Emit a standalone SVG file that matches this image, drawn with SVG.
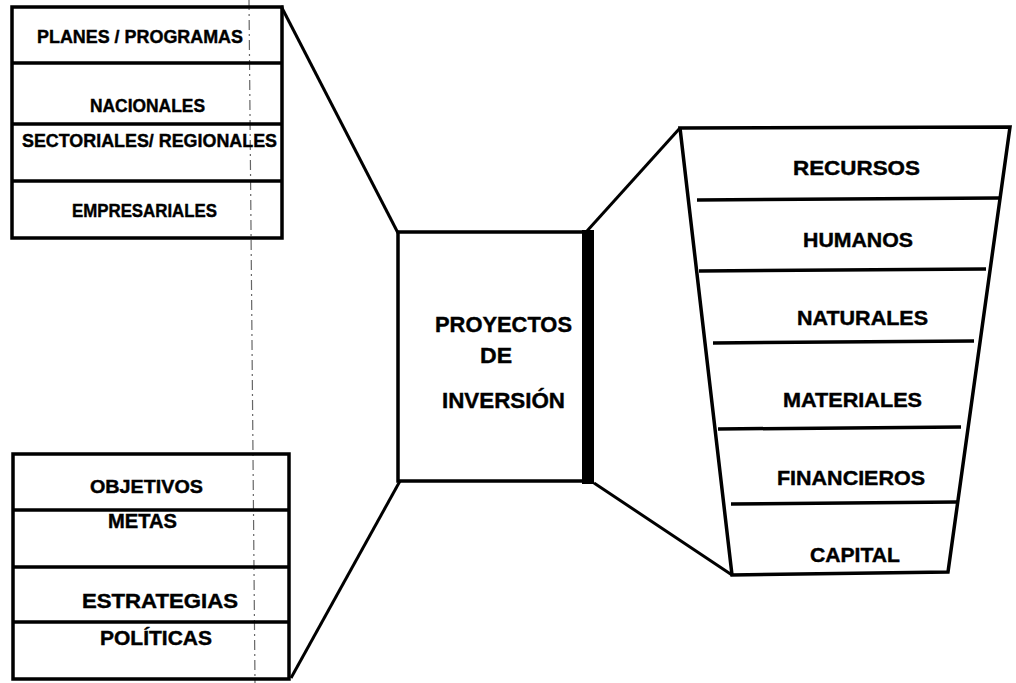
<svg xmlns="http://www.w3.org/2000/svg" width="1016" height="683" viewBox="0 0 1016 683">
  <style>
    .frame { fill: none; stroke: #000; stroke-width: 3.5; stroke-linejoin: miter; }
    .bar { fill: none; stroke: #000; stroke-width: 3.5; }
    .link { fill: none; stroke: #000; stroke-width: 3; }
    .guide { fill: none; stroke: #666; stroke-width: 1.2; stroke-dasharray: 10 4 2 4; }
    text { font-family: "Liberation Sans", Arial, sans-serif; font-weight: bold; fill: #000; stroke: #000; stroke-width: 0.4; }
    .sm { font-size: 17.5px; }
    .md { font-size: 19.5px; }
    .lg { font-size: 22px; }
  </style>
  <rect width="1016" height="683" fill="#fff"/>

  <!-- thin dashed vertical guide -->
  <line class="guide" x1="249" y1="0" x2="255" y2="683"/>

  <g id="connectors">
    <line class="link" x1="281" y1="6" x2="398" y2="233"/>
    <line class="link" x1="400" y1="481" x2="291" y2="678"/>
    <line class="link" x1="587" y1="231" x2="680" y2="128"/>
    <line class="link" x1="594" y1="483" x2="732" y2="575"/>
  </g>

  <g id="planes">
    <rect class="frame" x="12" y="7" width="270" height="231"/>
    <line class="bar" x1="12" y1="63" x2="282" y2="63"/>
    <line class="bar" x1="12" y1="124" x2="282" y2="124"/>
    <line class="bar" x1="12" y1="181" x2="282" y2="181"/>
    <text class="sm" x="37" y="43" textLength="206" lengthAdjust="spacingAndGlyphs">PLANES /  PROGRAMAS</text>
    <text class="sm" x="90" y="112" textLength="115" lengthAdjust="spacingAndGlyphs">NACIONALES</text>
    <text class="sm" x="22" y="147" textLength="255" lengthAdjust="spacingAndGlyphs">SECTORIALES/ REGIONALES</text>
    <text class="sm" x="72" y="217" textLength="145" lengthAdjust="spacingAndGlyphs">EMPRESARIALES</text>
  </g>

  <g id="objetivos">
    <rect class="frame" x="13" y="454" width="276" height="225"/>
    <line class="bar" x1="13" y1="510" x2="289" y2="510"/>
    <line class="bar" x1="13" y1="567" x2="289" y2="567"/>
    <line class="bar" x1="13" y1="622" x2="289" y2="622"/>
    <text class="sm" x="90" y="493" textLength="113" lengthAdjust="spacingAndGlyphs">OBJETIVOS</text>
    <text class="md" x="108" y="528" textLength="69" lengthAdjust="spacingAndGlyphs">METAS</text>
    <text class="md" x="82" y="608" textLength="156" lengthAdjust="spacingAndGlyphs">ESTRATEGIAS</text>
    <text class="md" x="100" y="645" textLength="112" lengthAdjust="spacingAndGlyphs">POLÍTICAS</text>
  </g>

  <g id="proyectos">
    <rect class="frame" x="398" y="232" width="188" height="249"/>
    <rect x="582" y="230" width="12" height="254" fill="#000"/>
    <text class="lg" x="435" y="332" textLength="137" lengthAdjust="spacingAndGlyphs">PROYECTOS</text>
    <text class="lg" x="480" y="363" textLength="32" lengthAdjust="spacingAndGlyphs">DE</text>
    <text class="lg" x="442" y="408" textLength="123" lengthAdjust="spacingAndGlyphs">INVERSIÓN</text>
  </g>

  <g id="recursos">
    <polygon class="frame" points="680,128 1010,127 948,572 732,575"/>
    <line class="bar" x1="697" y1="200" x2="999" y2="198"/>
    <line class="bar" x1="699" y1="271" x2="986" y2="269"/>
    <line class="bar" x1="713" y1="343" x2="974" y2="341"/>
    <line class="bar" x1="718" y1="429" x2="961" y2="427"/>
    <line class="bar" x1="731" y1="504" x2="957" y2="502"/>
    <text class="md" x="793" y="175" textLength="127" lengthAdjust="spacingAndGlyphs">RECURSOS</text>
    <text class="md" x="803" y="247" textLength="110" lengthAdjust="spacingAndGlyphs">HUMANOS</text>
    <text class="md" x="797" y="325" textLength="131" lengthAdjust="spacingAndGlyphs">NATURALES</text>
    <text class="md" x="783" y="407" textLength="139" lengthAdjust="spacingAndGlyphs">MATERIALES</text>
    <text class="md" x="777" y="485" textLength="148" lengthAdjust="spacingAndGlyphs">FINANCIEROS</text>
    <text class="md" x="810" y="562" textLength="90" lengthAdjust="spacingAndGlyphs">CAPITAL</text>
  </g>
</svg>
